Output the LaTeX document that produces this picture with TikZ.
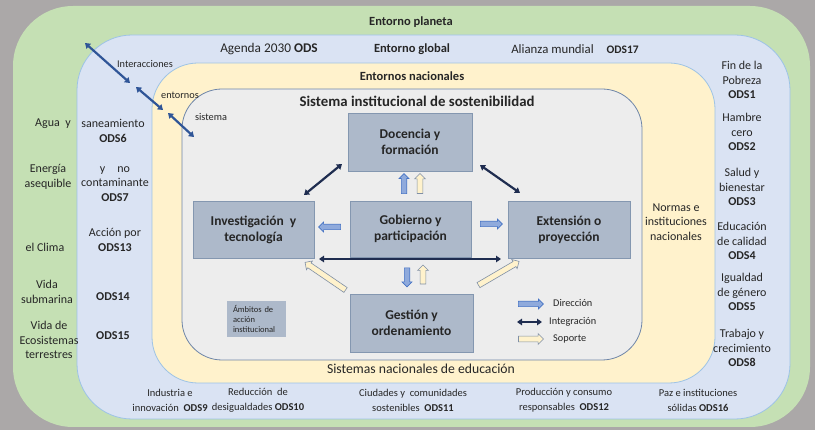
\documentclass[tikz,border=0pt]{standalone}
\usepackage{fontspec}
\setmainfont{Carlito}
\usetikzlibrary{shapes.arrows,arrows.meta}
\definecolor{canvasgray}{HTML}{ABA8A8}
\definecolor{planetgreen}{HTML}{C5E0B4}
\definecolor{globalblue}{HTML}{DAE3F3}
\definecolor{globalline}{HTML}{9DC3E6}
\definecolor{natyellow}{HTML}{FFF2CC}
\definecolor{sysgray}{HTML}{EDEDED}
\definecolor{sysline}{HTML}{6F86A8}
\definecolor{boxfill}{HTML}{ADB9CA}
\definecolor{boxline}{HTML}{8497B0}
\definecolor{navy}{HTML}{1F2D50}
\definecolor{midblue}{HTML}{2F5597}
\definecolor{dirfill}{HTML}{8FAADC}
\definecolor{dirline}{HTML}{4472C4}
\definecolor{supline}{HTML}{7F8FA6}
\definecolor{txt}{HTML}{262626}
\newcommand\fsz[2]{\fontsize{#1}{#2}\selectfont}
\tikzset{
  lbl/.style={align=center, inner sep=0pt, text=txt},
  fA/.style={font=\fsz{12}{14.5}},
  fC/.style={font=\fsz{10.5}{15}},
  ambox/.style={draw=boxline, fill=boxfill, line width=0.9pt, align=center, font=\bfseries\fsz{13.5}{16}, text=txt},
  dirarrow/.style={single arrow, draw=dirline, fill=dirfill, line width=0.6pt, inner sep=2.4pt, single arrow head extend=2.2pt, minimum height=20pt},
  suparrow/.style={single arrow, draw=supline, fill=natyellow, line width=0.6pt, inner sep=2.6pt, single arrow head extend=2.4pt, minimum height=20pt},
  integ/.style={draw=navy, line width=2.2pt, {Triangle[length=5pt,width=6.5pt]}-{Triangle[length=5pt,width=6.5pt]}},
  interac/.style={draw=midblue, line width=2.2pt, {Triangle[length=5pt,width=6.5pt]}-{Triangle[length=5pt,width=6.5pt]}}
}
\begin{document}
\begin{tikzpicture}[x=1pt,y=-1pt]
\fill[canvasgray] (0,0) rectangle (815,430);
\useasboundingbox (0,0) rectangle (815,430);
% nested environments
\fill[planetgreen, rounded corners=60pt] (13,6) rectangle (810,427);
\draw[fill=globalblue, draw=globalline, line width=0.8pt, rounded corners=55pt] (77,35) rectangle (790,419);
\draw[fill=natyellow, draw=globalline, line width=0.8pt, rounded corners=46pt] (152,63) rectangle (715,383);
\draw[fill=sysgray, draw=sysline, line width=0.8pt, rounded corners=40pt] (182,89) rectangle (642,360);

% headings
\node[lbl, font=\bfseries\fsz{12.5}{14}] (tplaneta) at (411,22) {Entorno planeta};
\node[lbl, font=\fsz{13.3}{15}] (tagenda) at (269,49) {Agenda 2030 \textbf{ODS}};
\node[lbl, font=\bfseries\fsz{12.5}{14}] (tglobal) at (412,49) {Entorno global};
\node[lbl, font=\fsz{12.8}{14}] (talianza) at (575,49) {Alianza mundial\quad\textbf{\fsz{11.5}{14}ODS17}};
\node[lbl, font=\bfseries\fsz{12.5}{14}] (tnac) at (412,76) {Entornos nacionales};
\node[lbl, font=\bfseries\fsz{14.8}{17}] (tsis) at (417,101) {Sistema institucional de sostenibilidad};
\node[lbl, font=\fsz{13.7}{15}] (tedu) at (421,369) {Sistemas nacionales de educación};

% interaction labels and arrows
\node[lbl, font=\fsz{10.3}{12}] (linter) at (145,64) {Interacciones};
\node[lbl, font=\fsz{10.3}{12}] (lentor) at (180,95) {entornos};
\node[lbl, font=\fsz{10.3}{12}] (lsist) at (211,117) {sistema};
\coordinate (i1a) at (85,43);  \coordinate (i1b) at (130,83);
\coordinate (i2a) at (136,87); \coordinate (i2b) at (163,110);
\coordinate (i3a) at (168,113); \coordinate (i3b) at (194,137);
\draw[interac] (i1a) -- (i1b);
\draw[interac] (i2a) -- (i2b);
\draw[interac] (i3a) -- (i3b);

% left column
\node[lbl, fA] (lagua) at (53,124) {Agua\ \ y};
\node[lbl, fA] (lsan) at (113,131) {saneamiento\\\textbf{ODS6}};
\node[lbl, fA] (lene) at (48,177) {Energía\\asequible};
\node[lbl, fA] (lcont) at (115,184) {y\quad no\\contaminante\\\textbf{ODS7}};
\node[lbl, fA] (lacc) at (115,240) {Acción por\\\textbf{ODS13}};
\node[lbl, fA] (lclima) at (45,247) {el Clima};
\node[lbl, fA] (lvida) at (47,292) {Vida\\submarina};
\node[lbl, fA] (l14) at (113,297) {\textbf{ODS14}};
\node[lbl, fA] (leco) at (49,340) {Vida de\\Ecosistemas\\terrestres};
\node[lbl, fA] (l15) at (113,336) {\textbf{ODS15}};

% right column
\node[lbl, fA] (r1) at (742,80) {Fin de la\\Pobreza\\\textbf{ODS1}};
\node[lbl, fA] (r2) at (742,132) {Hambre\\cero\\\textbf{ODS2}};
\node[lbl, fA] (r3) at (742,187) {Salud y\\bienestar\\\textbf{ODS3}};
\node[lbl, fA] (r4) at (742,241) {Educación\\de calidad\\\textbf{ODS4}};
\node[lbl, fA] (r5) at (742,292) {Igualdad\\de género\\\textbf{ODS5}};
\node[lbl, fA] (r6) at (742,348) {Trabajo y\\crecimiento\\\textbf{ODS8}};
\node[lbl, fA] (rnorm) at (676,222) {Normas e\\instituciones\\nacionales};

% bottom row
\node[lbl, fC] (b1) at (170,400) {Industria e\\innovación\ \ \textbf{ODS9}};
\node[lbl, fC] (b2) at (258,400) {Reducción\ \ de\\desigualdades \textbf{ODS10}};
\node[lbl, fC] (b3) at (413,400) {Ciudades y\ \ comunidades\\sostenibles\ \ \textbf{ODS11}};
\node[lbl, fC] (b4) at (564,400) {Producción y consumo\\responsables\ \ \textbf{ODS12}};
\node[lbl, fC] (b5) at (698,400) {Paz e instituciones\\sólidas \textbf{ODS16}};

% institutional areas
\node[ambox, minimum width=124pt, minimum height=58pt] (doc) at (410,142) {Docencia y\\formación};
\node[ambox, minimum width=121pt, minimum height=57pt] (inv) at (253.5,229.5) {Investigación\ \ y\\tecnología};
\node[ambox, minimum width=121pt, minimum height=56pt] (gob) at (410.5,229) {Gobierno y\\participación};
\node[ambox, minimum width=122pt, minimum height=57pt] (ext) at (569,229.5) {Extensión o\\proyección};
\node[ambox, minimum width=123pt, minimum height=58pt] (ges) at (411.5,323) {Gestión y\\ordenamiento};
\node[fill=boxfill, draw=none, align=left, inner xsep=6pt, text width=47pt, minimum height=36pt, font=\fsz{8.5}{10}, text=txt] (amb) at (256.5,319) {Ámbitos de\\acción\\institucional};

% integration arrows
\coordinate (d1a) at (342,164); \coordinate (d1b) at (304,195);
\coordinate (d2a) at (480,165); \coordinate (d2b) at (520,193);
\coordinate (h1a) at (319,259); \coordinate (h1b) at (501,259);
\draw[integ] (d1a) -- (d1b);
\draw[integ] (d2a) -- (d2b);
\draw[integ] (h1a) -- (h1b);

% direction / support block arrows
\node[dirarrow, rotate=90] (up1) at (404,185) {};
\node[suparrow, rotate=90] (up2) at (420,185) {};
\node[dirarrow, rotate=180, minimum height=22pt] (lt1) at (331,227) {};
\node[dirarrow, minimum height=22pt] (rt1) at (490,224) {};
\node[dirarrow, rotate=-90, minimum height=19pt] (dn1) at (407,276) {};
\node[suparrow, rotate=90, minimum height=19pt] (up3) at (423,276) {};
\node[suparrow, rotate=145.7, minimum height=49pt] (sl) at (326.5,277) {};
\node[suparrow, rotate=30.3, minimum height=47pt] (sr) at (497.5,274) {};

% legend
\node[dirarrow, minimum height=25pt] (legd) at (529.5,304) {};
\coordinate (lgia) at (517,322); \coordinate (lgib) at (542,322);
\draw[integ] (lgia) -- (lgib);
\node[suparrow, minimum height=25pt] (legs) at (529.5,339) {};
\node[lbl, font=\fsz{10.3}{12}, anchor=west] (tdir) at (553,303) {Dirección};
\node[lbl, font=\fsz{10.3}{12}, anchor=west] (tint) at (549,322) {Integración};
\node[lbl, font=\fsz{10.3}{12}, anchor=west] (tsop) at (553,339) {Soporte};
\end{tikzpicture}
\end{document}
